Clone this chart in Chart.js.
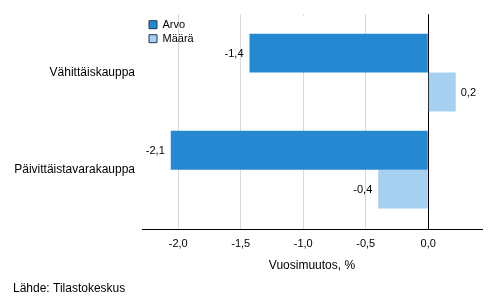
<!DOCTYPE html>
<html>
<head>
<meta charset="utf-8">
<script src="https://cdn.jsdelivr.net/npm/chart.js@4/dist/chart.umd.min.js"></script>
<style>
html,body{margin:0;padding:0;background:#fff;}
#wrap{width:493px;height:304px;position:relative;}
</style>
</head>
<body>
<div id="wrap"><canvas id="c"></canvas></div>
<script>
const categories = ['Vähittäiskauppa', 'Päivittäistavarakauppa'];
const seriesNames = ['Arvo', 'Määrä'];
const arvoValues = [-1.43, -2.06];
const maaraValues = [0.22, -0.40];
const xTickStep = 0.5;
const axisTitle = 'Vuosimuutos, %';
const sourceText = 'Lähde: Tilastokeskus';

const FONT = "'Liberation Sans', Arial, sans-serif";

function toPoints(vals){ return vals.map((v,i)=>({x:v, y:i})); }

const labelPlugin = {
  id: 'valueLabels',
  afterDatasetsDraw(chart){
    const ctx = chart.ctx;
    ctx.save();
    ctx.font = '11px ' + FONT;
    ctx.fillStyle = '#000';
    ctx.textBaseline = 'middle';
    chart.data.datasets.forEach((ds, di) => {
      const meta = chart.getDatasetMeta(di);
      meta.data.forEach((el, i) => {
        const v = ds.data[i].x;
        const txt = v.toFixed(1).replace('.', ',');
        if (v < 0) { ctx.textAlign = 'right'; ctx.fillText(txt, el.x - 6, el.y + 1); }
        else { ctx.textAlign = 'left'; ctx.fillText(txt, el.x + 5, el.y + 1); }
      });
    });
    ctx.restore();
  }
};

// place the legend inside the chart area (top-left) with a white background
const legendPlace = {
  id: 'legendPlace',
  afterLayout(chart){
    const lg = chart.legend;
    if (!lg) return;
    const ca = chart.chartArea;
    const h = lg.height, w = lg.width;
    lg.left = ca.left + 4; lg.top = ca.top + 2;
    lg.right = lg.left + w; lg.bottom = lg.top + h;
    if (lg.adjustHitBoxes) lg.adjustHitBoxes();
    if (!lg._wrapped) {
      const orig = lg.draw;
      lg.draw = function(){
        const ctx = chart.ctx;
        const hb = this.legendHitBoxes || [];
        if (hb.length){
          let l=Infinity,t=Infinity,r=-Infinity,b=-Infinity;
          hb.forEach(hh=>{l=Math.min(l,hh.left);t=Math.min(t,hh.top);r=Math.max(r,hh.left+hh.width);b=Math.max(b,hh.top+hh.height);});
          ctx.save(); ctx.fillStyle='#fff'; ctx.fillRect(l-3,t-3,r-l+8,b-t+6); ctx.restore();
        }
        orig.apply(this, arguments);
      };
      lg._wrapped = true;
    }
  }
};

new Chart(document.getElementById('c'), {
  type: 'bar',
  data: {
    datasets: [
      { label: seriesNames[0], data: toPoints(arvoValues), backgroundColor: '#2589d2', borderWidth: 0 },
      { label: seriesNames[1], data: toPoints(maaraValues), backgroundColor: '#a5d0ef', borderWidth: 0 }
    ]
  },
  options: {
    indexAxis: 'y',
    responsive: true,
    maintainAspectRatio: false,
    animation: false,
    categoryPercentage: 0.8,
    barPercentage: 1.0,
    layout: { padding: { left: 13, right: 11, top: 12, bottom: 8 } },
    scales: {
      x: {
        type: 'linear',
        min: -2.29,
        max: 0.43,
        ticks: {
          stepSize: xTickStep,
          includeBounds: false,
          padding: 8,
          color: '#000',
          font: { family: FONT, size: 11 },
          callback: (v) => Number(v).toFixed(1).replace('.', ',')
        },
        grid: {
          drawTicks: false,
          color: (c) => (c.tick && Math.abs(c.tick.value) < 1e-9) ? '#000' : '#d9d9d9',
          z: -1
        },
        border: { display: true, color: '#000' },
        title: {
          display: true,
          text: axisTitle,
          color: '#000',
          font: { family: FONT, size: 12 },
          padding: { top: 0, bottom: 2 }
        }
      },
      y: {
        type: 'linear',
        reverse: true,
        offset: false,
        min: -0.6,
        max: 1.61,
        afterBuildTicks: (axis) => { axis.ticks = categories.map((c, i) => ({ value: i })); },
        afterFit: (axis) => { axis.width = 129; },
        ticks: {
          padding: 7,
          color: '#000',
          font: { family: FONT, size: 12 },
          callback: (v) => categories[v] !== undefined ? categories[v] : ''
        },
        grid: { display: false, drawTicks: false, offset: false },
        border: { display: false }
      }
    },
    plugins: {
      legend: {
        position: 'chartArea',
        align: 'start',
        labels: {
          boxWidth: 8,
          boxHeight: 8,
          padding: 3,
          color: '#000',
          font: { family: FONT, size: 11 },
          generateLabels: (chart) => Chart.defaults.plugins.legend.labels.generateLabels(chart).map(l => Object.assign(l, { strokeStyle: '#1d3a5c', lineWidth: 1 }))
        }
      },
      title: {
        display: true,
        text: sourceText,
        position: 'bottom',
        align: 'start',
        color: '#000',
        font: { family: FONT, size: 12, weight: 'normal' },
        padding: { top: 7, bottom: 0 }
      },
      tooltip: { enabled: false }
    }
  },
  plugins: [labelPlugin, legendPlace]
});
</script>
</body>
</html>
